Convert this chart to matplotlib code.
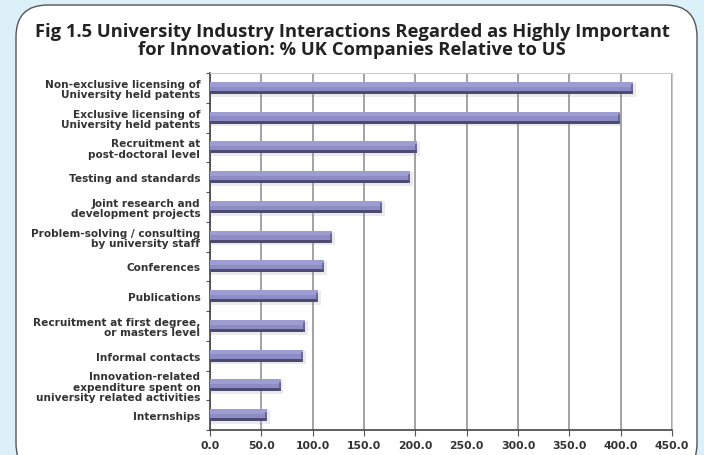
import numpy as np
import matplotlib
matplotlib.use('Agg')
import matplotlib.pyplot as plt
from matplotlib.patches import FancyBboxPatch

# categories, top to bottom
categories = [
    'Non-exclusive licensing of\nUniversity held patents',
    'Exclusive licensing of\nUniversity held patents',
    'Recruitment at\npost-doctoral level',
    'Testing and standards',
    'Joint research and\ndevelopment projects',
    'Problem-solving / consulting\nby university staff',
    'Conferences',
    'Publications',
    'Recruitment at first degree,\nor masters level',
    'Informal contacts',
    'Innovation-related\nexpenditure spent on\nuniversity related activities',
    'Internships',
]
values = [412.0, 399.0, 202.0, 195.0, 168.0, 119.0, 111.0, 105.5, 92.5, 91.0, 69.0, 56.0]
xticks = [0, 50, 100, 150, 200, 250, 300, 350, 400, 450]

BG = '#dcf0fa'
TXT = '#333333'
plt.rcParams['font.family'] = ['Open Sans', 'DejaVu Sans']
TICKFONT = dict(family='DejaVu Sans', fontweight='bold', color=TXT)

W, H = 704, 456
fig = plt.figure(figsize=(W/100, H/100), dpi=100)
fig.patch.set_facecolor(BG)

# white rounded panel behind everything
panel = FancyBboxPatch((16/W, -20/H), 681/W, 470/H,
                       boxstyle='round,pad=0,rounding_size=0.045',
                       transform=fig.transFigure, facecolor='white',
                       edgecolor='#555555', linewidth=1.0, zorder=-5,
                       mutation_aspect=W/H)
fig.patches.append(panel)

fig.text(0.5, 1 - 41/H, 'Fig 1.5 University Industry Interactions Regarded as Highly Important\nfor Innovation: % UK Companies Relative to US',
         ha='center', va='center', fontsize=13.2, fontweight='bold', color='#222222',
         linespacing=1.0)

ax = fig.add_axes([210/W, 1 - 431/H, 462/W, 357/H])
ax.set_facecolor('white')
n = len(categories)
y = np.arange(n)
h = 0.40
# soft drop shadow, bar body, lighter top band, dark lower edge, dark end cap
ax.barh(y + 0.06, [v + 2.5 for v in values], height=h + 0.06, color='#9a9aa8', alpha=0.2, zorder=2)
ax.barh(y, values, height=h, color='#8e8cc6', zorder=3)
ax.barh(y - 0.12, values, height=0.16, color='#9e9dd1', zorder=3.5)
ax.barh(y + 0.15, values, height=0.10, color='#4c4a6e', zorder=3.6)
ax.barh(y + 0.04, [2.0] * n, left=[v - 2.0 for v in values], height=h - 0.08,
        color='#5a5880', alpha=0.7, zorder=3.7)

ax.set_xlim(0, 450)
ax.set_ylim(n - 0.5, -0.5)
ax.set_xticks(xticks)
ax.set_xticklabels([f'{v:.1f}' for v in xticks], fontsize=7.8, **TICKFONT)
ax.set_yticks(y)
ax.set_yticklabels(categories, fontsize=7.6, linespacing=1.05, **TICKFONT)
ax.set_yticks(np.arange(n + 1) - 0.5, minor=True)
ax.tick_params(axis='y', which='major', length=0, pad=7)
ax.tick_params(axis='y', which='minor', length=3, color='#555555', width=0.8)
ax.tick_params(axis='x', length=4, color='#555555', width=0.8, pad=3)
ax.grid(axis='x', color='#8a8a8a', linewidth=1.1, zorder=1)
ax.set_axisbelow(True)
for s in ['top', 'right']:
    ax.spines[s].set_color('#cccccc')
    ax.spines[s].set_linewidth(0.8)
for s in ['left', 'bottom']:
    ax.spines[s].set_color('#444444')
    ax.spines[s].set_linewidth(1.2)

fig.savefig('out.png', dpi=100, facecolor=fig.get_facecolor())
